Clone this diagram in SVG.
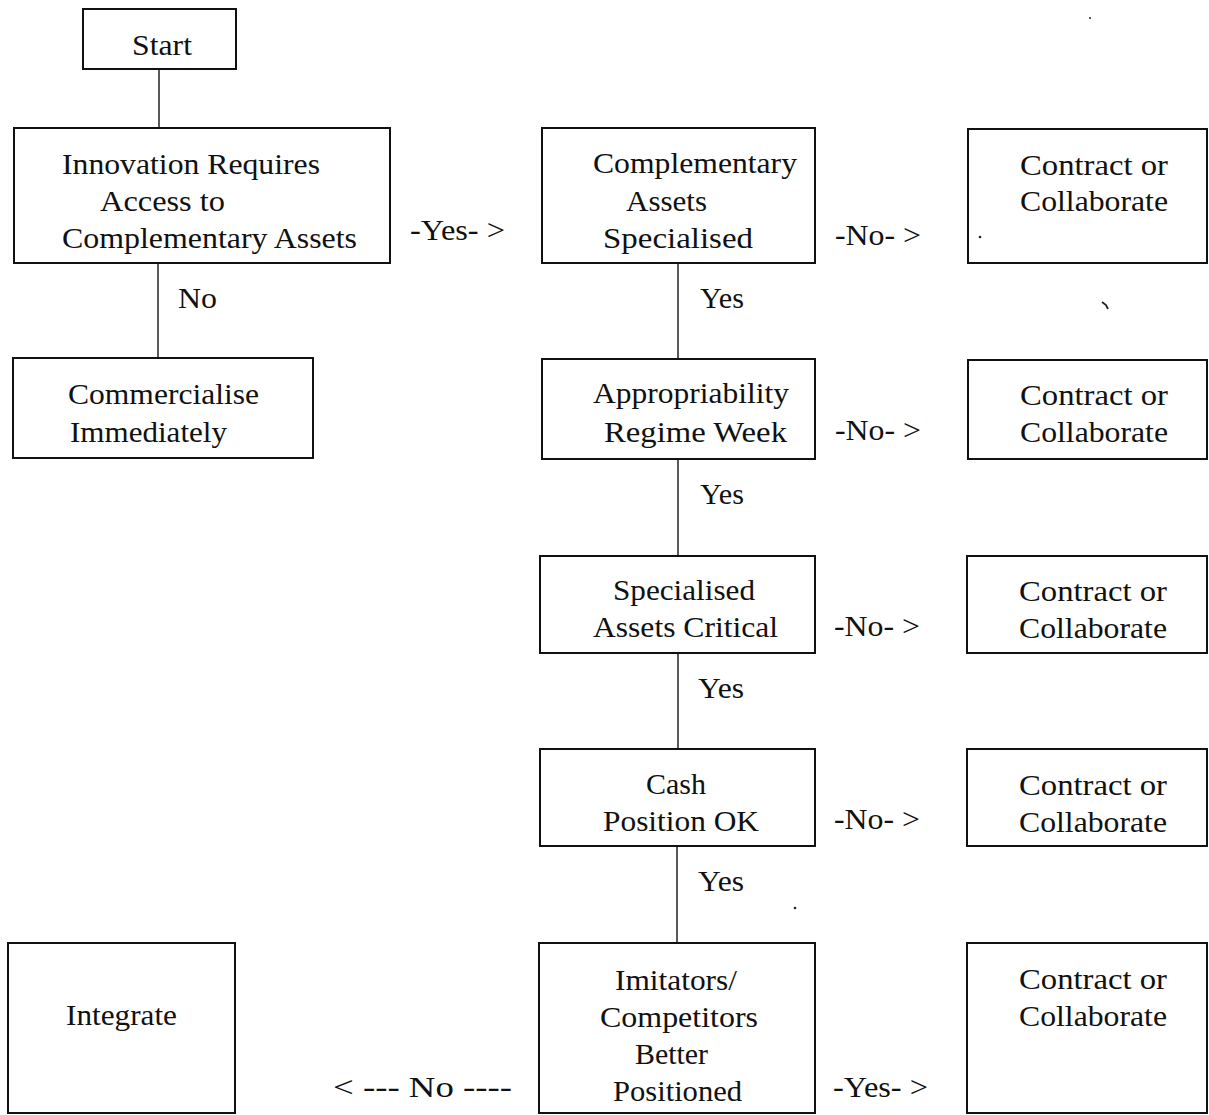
<svg xmlns="http://www.w3.org/2000/svg" width="1209" height="1115" viewBox="0 0 1209 1115">
<style>
  .box{fill:#fff;stroke:#111;stroke-width:2}
  .ln{stroke:#222;stroke-width:1.5;fill:none}
  text{font-family:"Liberation Serif","Times New Roman",serif;font-size:30px;fill:#111}
  .speck{fill:#222}
</style>
<rect width="1209" height="1115" fill="#fff"/>
<g id="connectors">
  <line class="ln" x1="159" y1="69" x2="159" y2="128"/>
  <line class="ln" x1="158" y1="263" x2="158" y2="358"/>
  <line class="ln" x1="678" y1="263" x2="678" y2="359"/>
  <line class="ln" x1="678" y1="459" x2="678" y2="556"/>
  <line class="ln" x1="678" y1="653" x2="678" y2="749"/>
  <line class="ln" x1="677" y1="846" x2="677" y2="943"/>
  <text x="178" y="308" textLength="39" lengthAdjust="spacingAndGlyphs">No</text>
  <text x="410" y="240" textLength="95" lengthAdjust="spacingAndGlyphs">-Yes- &gt;</text>
  <text x="700" y="308" textLength="44" lengthAdjust="spacingAndGlyphs">Yes</text>
  <text x="700" y="504" textLength="44" lengthAdjust="spacingAndGlyphs">Yes</text>
  <text x="698" y="698" textLength="46" lengthAdjust="spacingAndGlyphs">Yes</text>
  <text x="698" y="891" textLength="46" lengthAdjust="spacingAndGlyphs">Yes</text>
  <text x="835" y="245" textLength="86" lengthAdjust="spacingAndGlyphs">-No- &gt;</text>
  <text x="835" y="440" textLength="86" lengthAdjust="spacingAndGlyphs">-No- &gt;</text>
  <text x="834" y="636" textLength="86" lengthAdjust="spacingAndGlyphs">-No- &gt;</text>
  <text x="834" y="829" textLength="86" lengthAdjust="spacingAndGlyphs">-No- &gt;</text>
  <text x="833" y="1097" textLength="95" lengthAdjust="spacingAndGlyphs">-Yes- &gt;</text>
  <text x="333" y="1097" textLength="179" lengthAdjust="spacingAndGlyphs">&lt; --- No ----</text>
</g>
<g id="start">
  <rect class="box" x="83" y="9" width="153" height="60"/>
  <text x="132" y="55" textLength="60" lengthAdjust="spacingAndGlyphs">Start</text>
</g>
<g id="innovation">
  <rect class="box" x="14" y="128" width="376" height="135"/>
  <text x="62" y="174" textLength="258" lengthAdjust="spacingAndGlyphs">Innovation Requires</text>
  <text x="100" y="211" textLength="125" lengthAdjust="spacingAndGlyphs">Access to</text>
  <text x="62" y="248" textLength="295" lengthAdjust="spacingAndGlyphs">Complementary Assets</text>
</g>
<g id="commercialise">
  <rect class="box" x="13" y="358" width="300" height="100"/>
  <text x="68" y="404" textLength="191" lengthAdjust="spacingAndGlyphs">Commercialise</text>
  <text x="70" y="442" textLength="157" lengthAdjust="spacingAndGlyphs">Immediately</text>
</g>
<g id="comp-assets">
  <rect class="box" x="542" y="128" width="273" height="135"/>
  <text x="593" y="173" textLength="204" lengthAdjust="spacingAndGlyphs">Complementary</text>
  <text x="626" y="211" textLength="81" lengthAdjust="spacingAndGlyphs">Assets</text>
  <text x="603" y="248" textLength="150" lengthAdjust="spacingAndGlyphs">Specialised</text>
</g>
<g id="approp">
  <rect class="box" x="542" y="359" width="273" height="100"/>
  <text x="593" y="403" textLength="196" lengthAdjust="spacingAndGlyphs">Appropriability</text>
  <text x="604" y="442" textLength="183" lengthAdjust="spacingAndGlyphs">Regime Week</text>
</g>
<g id="spec-critical">
  <rect class="box" x="540" y="556" width="275" height="97"/>
  <text x="613" y="600" textLength="142" lengthAdjust="spacingAndGlyphs">Specialised</text>
  <text x="593" y="637" textLength="185" lengthAdjust="spacingAndGlyphs">Assets Critical</text>
</g>
<g id="cash">
  <rect class="box" x="540" y="749" width="275" height="97"/>
  <text x="646" y="794" textLength="60" lengthAdjust="spacingAndGlyphs">Cash</text>
  <text x="603" y="831" textLength="156" lengthAdjust="spacingAndGlyphs">Position OK</text>
</g>
<g id="imitators">
  <rect class="box" x="539" y="943" width="276" height="170"/>
  <text x="615" y="990" textLength="122" lengthAdjust="spacingAndGlyphs">Imitators/</text>
  <text x="600" y="1027" textLength="158" lengthAdjust="spacingAndGlyphs">Competitors</text>
  <text x="635" y="1064" textLength="73" lengthAdjust="spacingAndGlyphs">Better</text>
  <text x="613" y="1101" textLength="129" lengthAdjust="spacingAndGlyphs">Positioned</text>
</g>
<g id="integrate">
  <rect class="box" x="8" y="943" width="227" height="170"/>
  <text x="66" y="1025" textLength="111" lengthAdjust="spacingAndGlyphs">Integrate</text>
</g>
<g id="contract1">
  <rect class="box" x="968" y="129" width="239" height="134"/>
  <text x="1020" y="175" textLength="148" lengthAdjust="spacingAndGlyphs">Contract or</text>
  <text x="1020" y="211" textLength="148" lengthAdjust="spacingAndGlyphs">Collaborate</text>
</g>
<g id="contract2">
  <rect class="box" x="968" y="360" width="239" height="99"/>
  <text x="1020" y="405" textLength="148" lengthAdjust="spacingAndGlyphs">Contract or</text>
  <text x="1020" y="442" textLength="148" lengthAdjust="spacingAndGlyphs">Collaborate</text>
</g>
<g id="contract3">
  <rect class="box" x="967" y="556" width="240" height="97"/>
  <text x="1019" y="601" textLength="148" lengthAdjust="spacingAndGlyphs">Contract or</text>
  <text x="1019" y="638" textLength="148" lengthAdjust="spacingAndGlyphs">Collaborate</text>
</g>
<g id="contract4">
  <rect class="box" x="967" y="749" width="240" height="97"/>
  <text x="1019" y="795" textLength="148" lengthAdjust="spacingAndGlyphs">Contract or</text>
  <text x="1019" y="832" textLength="148" lengthAdjust="spacingAndGlyphs">Collaborate</text>
</g>
<g id="contract5">
  <rect class="box" x="967" y="943" width="240" height="170"/>
  <text x="1019" y="989" textLength="148" lengthAdjust="spacingAndGlyphs">Contract or</text>
  <text x="1019" y="1026" textLength="148" lengthAdjust="spacingAndGlyphs">Collaborate</text>
</g>
<g id="specks">
  <circle class="speck" cx="980" cy="237" r="1.3"/>
  <path d="M1102 302 L1106 305 L1108 309" stroke="#222" stroke-width="1.8" fill="none"/>
  <circle class="speck" cx="795" cy="908" r="1.3"/>
  <circle class="speck" cx="1090" cy="18" r="1"/>
</g>
</svg>
